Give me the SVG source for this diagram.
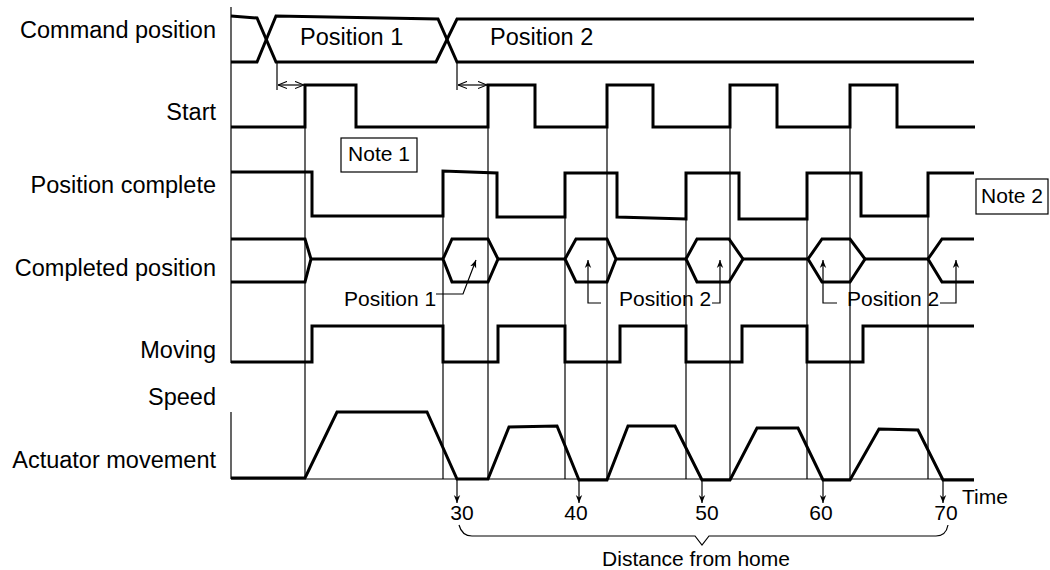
<svg xmlns="http://www.w3.org/2000/svg" width="1050" height="570" viewBox="0 0 1050 570">
<defs>
<style>
.sig{fill:none;stroke:#000;stroke-width:3;stroke-linejoin:miter}
.thin{fill:none;stroke:#000;stroke-width:1.2}
.lbl{font-family:"Liberation Sans",Arial,sans-serif;font-size:23.5px;fill:#000}
.sm{font-family:"Liberation Sans",Arial,sans-serif;font-size:21px;fill:#000}
.box{fill:#fff;stroke:#000;stroke-width:1.2}
</style>
<marker id="ah" viewBox="0 0 10 10" refX="10" refY="5" markerWidth="8" markerHeight="8" markerUnits="userSpaceOnUse" orient="auto">
<path d="M0,1 L10,5 L0,9 L3,5 Z" fill="#000"/>
</marker>
<marker id="oh" viewBox="0 0 10 10" refX="10" refY="5" markerWidth="9" markerHeight="9" markerUnits="userSpaceOnUse" orient="auto-start-reverse">
<path d="M0,1 L10,5 L0,9" fill="none" stroke="#000" stroke-width="1.2"/>
</marker>
</defs>
<rect width="1050" height="570" fill="#fff"/>

<g id="labels">
<text class="lbl" x="216" y="38" text-anchor="end">Command position</text>
<text class="lbl" x="216" y="120" text-anchor="end">Start</text>
<text class="lbl" x="216" y="193" text-anchor="end">Position complete</text>
<text class="lbl" x="216" y="276" text-anchor="end">Completed position</text>
<text class="lbl" x="216" y="358" text-anchor="end">Moving</text>
<text class="lbl" x="216" y="405" text-anchor="end">Speed</text>
<text class="lbl" x="216" y="468" text-anchor="end">Actuator movement</text>
</g>

<g id="axes">
<line class="thin" x1="231" y1="7" x2="231" y2="363" stroke-width="1.5"/>
<line class="thin" x1="231" y1="412" x2="231" y2="479" stroke-width="1.5"/>
<line class="thin" x1="231" y1="479" x2="974" y2="479"/>
</g>

<g id="guides">
<line class="thin" x1="305" y1="85" x2="305" y2="479"/>
<line class="thin" x1="443" y1="172" x2="443" y2="479"/>
<line class="thin" x1="488" y1="85" x2="488" y2="479"/>
<line class="thin" x1="565" y1="173" x2="565" y2="479"/>
<line class="thin" x1="607" y1="85" x2="607" y2="479"/>
<line class="thin" x1="686" y1="173" x2="686" y2="479"/>
<line class="thin" x1="730" y1="85" x2="730" y2="479"/>
<line class="thin" x1="807" y1="173" x2="807" y2="479"/>
<line class="thin" x1="850" y1="85" x2="850" y2="479"/>
<line class="thin" x1="928" y1="173" x2="928" y2="479"/>
</g>

<g id="command-position">
<polyline class="sig" points="231,16 257,18 276,62 436,62 457,19 974,19"/>
<polyline class="sig" points="231,62 257,62 276,16 438,19 457,62 974,62"/>
<text class="lbl" x="300" y="45">Position 1</text>
<text class="lbl" x="490" y="45">Position 2</text>
</g>

<g id="delay-arrows">
<line class="thin" x1="277" y1="62" x2="277" y2="90"/>
<line class="thin" x1="278" y1="85" x2="304" y2="85" marker-start="url(#oh)" marker-end="url(#oh)"/>
<line class="thin" x1="457" y1="62" x2="457" y2="90"/>
<line class="thin" x1="458" y1="85" x2="487" y2="85" marker-start="url(#oh)" marker-end="url(#oh)"/>
</g>

<g id="start">
<polyline class="sig" points="231,127 305,127 305,85 356,85 356,127 488,127 488,85 535,85 535,127 607,127 607,85 653,85 653,127 730,127 730,85 777,85 777,127 850,127 850,85 897,85 897,127 975,127"/>
</g>

<g id="note1">
<rect class="box" x="341" y="138" width="76" height="34"/>
<text class="sm" x="379" y="161" text-anchor="middle">Note 1</text>
</g>

<g id="position-complete">
<polyline class="sig" points="231,172 312,172 312,216 443,216 443,171 497,173 497,217 565,217 565,173 617,173 617,217 686,219 686,173 739,173 739,219 807,219 807,173 861,173 861,216 928,216 928,173 974,173"/>
</g>

<g id="note2">
<rect class="box" x="976" y="179" width="72" height="35"/>
<text class="sm" x="1012" y="203" text-anchor="middle">Note 2</text>
</g>

<g id="completed-position">
<polyline class="sig" points="231,239 305,239 311,259 305,282 231,282"/>
<polyline class="sig" points="311,259 443,259"/>
<polygon class="sig" points="443,259 452,239 488,239 498,259 488,282 452,282"/>
<polyline class="sig" points="498,259 565,259"/>
<polygon class="sig" points="565,259 576,239 607,239 616,259 607,282 576,282"/>
<polyline class="sig" points="616,259 686,259"/>
<polygon class="sig" points="686,259 697,239 729,239 743,259 729,282 697,282"/>
<polyline class="sig" points="743,259 808,259"/>
<polygon class="sig" points="808,259 822,239 850,239 865,259 850,282 822,282"/>
<polyline class="sig" points="865,259 928,259"/>
<polyline class="sig" points="974,239 942,239 928,259 942,282 974,282"/>
</g>

<g id="completed-labels">
<text class="sm" x="344" y="306">Position 1</text>
<polyline class="thin" points="436,294 463,294 476,260" marker-end="url(#ah)"/>
<text class="sm" x="619" y="306">Position 2</text>
<polyline class="thin" points="601,303 588,303 588,260" marker-end="url(#ah)"/>
<polyline class="thin" points="712,303 720,303 720,260" marker-end="url(#ah)"/>
<text class="sm" x="847" y="306">Position 2</text>
<polyline class="thin" points="837,303 823,303 823,260" marker-end="url(#ah)"/>
<polyline class="thin" points="940,303 956,303 956,260" marker-end="url(#ah)"/>
</g>

<g id="moving">
<polyline class="sig" points="231,362 312,362 312,326 443,326 443,362 498,362 498,326 565,326 565,362 620,362 620,326 686,326 686,362 742,362 742,326 807,326 807,362 863,362 863,326 974,326"/>
</g>

<g id="actuator">
<polyline class="sig" points="231,478 305,478 337,412 427,412 457,479 488,479 509,427 557,426 579,480 607,480 628,426 675,426 702,480 730,480 757,428 798,428 823,480 850,480 879,429 918,430 943,480 974,480"/>
</g>

<g id="distance-marks">
<line class="thin" x1="457" y1="480" x2="457" y2="503" marker-end="url(#ah)"/>
<line class="thin" x1="579" y1="480" x2="579" y2="503" marker-end="url(#ah)"/>
<line class="thin" x1="702" y1="480" x2="702" y2="503" marker-end="url(#ah)"/>
<line class="thin" x1="823" y1="480" x2="823" y2="503" marker-end="url(#ah)"/>
<line class="thin" x1="943" y1="480" x2="943" y2="503" marker-end="url(#ah)"/>
<text class="sm" x="462" y="520" text-anchor="middle">30</text>
<text class="sm" x="576" y="520" text-anchor="middle">40</text>
<text class="sm" x="707" y="520" text-anchor="middle">50</text>
<text class="sm" x="821" y="520" text-anchor="middle">60</text>
<text class="sm" x="946" y="520" text-anchor="middle">70</text>
<text class="sm" x="962" y="504">Time</text>
<path class="thin" d="M459,525 Q462,536 472,536 L695,536 L702,545 L709,536 L936,536 Q946,536 948,525"/>
<text class="sm" x="696" y="566" text-anchor="middle">Distance from home</text>
</g>
</svg>
